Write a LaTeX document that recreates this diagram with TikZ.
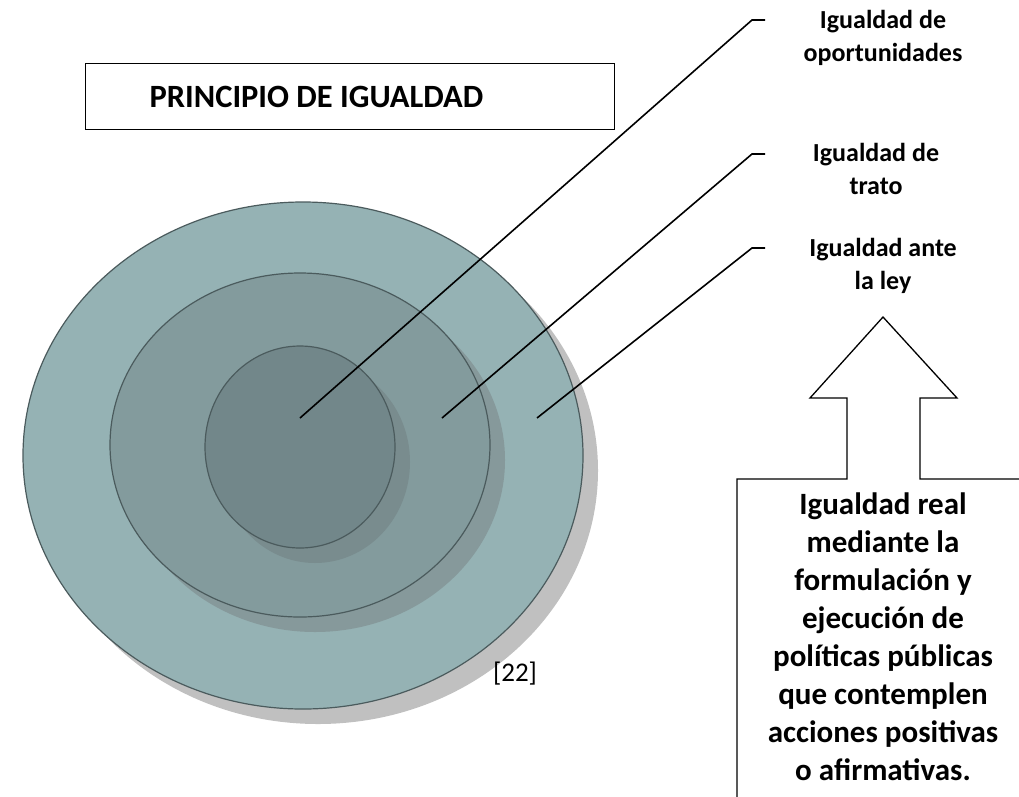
\documentclass[tikz,border=0pt]{standalone}
\usepackage{fontspec}
\setmainfont{Carlito}
\usetikzlibrary{shapes.geometric,shadows}

\definecolor{ringA}{HTML}{95B2B4}
\definecolor{ringB}{HTML}{839B9D}
\definecolor{ringC}{HTML}{72878A}
\definecolor{ringedge}{HTML}{4B5B5D}
\definecolor{shadeA}{HTML}{C0C0C0}
\definecolor{shadeB}{HTML}{86999B}
\definecolor{shadeC}{HTML}{798C8E}

\tikzset{
  ring/.style={ellipse, draw=ringedge, line width=1.2pt, inner sep=0pt},
  ringshade/.style={drop shadow={shadow xshift=15pt, shadow yshift=-15pt, fill=#1, opacity=1}},
  lbl/.style={font=\bfseries\fontsize{26}{33}\selectfont, align=center, anchor=north, inner sep=0pt},
  lead/.style={line width=1.6pt},
}

\begin{document}
\begin{tikzpicture}[x=1pt,y=-1pt]
    \useasboundingbox (0,0) rectangle (1019,796);
    \clip (0,0) rectangle (1019,796);

    \node[draw, line width=1.3pt, anchor=north west, minimum width=529pt, minimum height=66pt,
          text width=401pt, inner xsep=64pt, align=flush left,
          font=\bfseries\fontsize{32.5}{38}\selectfont] (title) at (85,63) {PRINCIPIO DE IGUALDAD};

    \node[ring, fill=ringA, ringshade=shadeA, minimum width=560pt, minimum height=507pt] (outer) at (303,455.5) {};
    \node[ring, fill=ringB, ringshade=shadeB, minimum width=380pt, minimum height=344pt] (middle) at (300,445) {};
    \node[ring, fill=ringC, ringshade=shadeC, minimum width=190pt, minimum height=202pt] (inner) at (300,447) {};

    \node[font=\fontsize{27}{32}\selectfont, inner sep=0pt] (ref) at (515,674) {[22]};

    \node[lbl] (t1) at (883,10)  {Igualdad de\\oportunidades};
    \node[lbl] (t2) at (876,143) {Igualdad de\\trato};
    \node[lbl] (t3) at (883,238) {Igualdad ante\\la ley};

    \coordinate (p1) at (300,418);
    \coordinate (p2) at (442,418);
    \coordinate (p3) at (537,418);
    \coordinate (k1) at (752,20);
    \coordinate (k2) at (752,154);
    \coordinate (k3) at (752,248);
    \coordinate (e1) at (765,20);
    \coordinate (e2) at (765,154);
    \coordinate (e3) at (765,248);

    \draw[lead] (p1) -- (k1) -- (e1);
    \draw[lead] (p2) -- (k2) -- (e2);
    \draw[lead] (p3) -- (k3) -- (e3);

    \node[font=\bfseries\fontsize{31}{38}\selectfont, align=center, anchor=north, inner sep=0pt] (real) at (883,493)
      {Igualdad real\\mediante la\\formulación y\\ejecución de\\políticas públicas\\que contemplen\\acciones positivas\\o afirmativas.};

    \draw[line width=1.3pt] (737,810) -- (737,479) -- (847,479) -- (847,398) -- (810,398) -- (883,317)
      -- (957,398) -- (920,398) -- (920,479) -- (1030,479) -- (1030,810) -- cycle;
\end{tikzpicture}
\end{document}
